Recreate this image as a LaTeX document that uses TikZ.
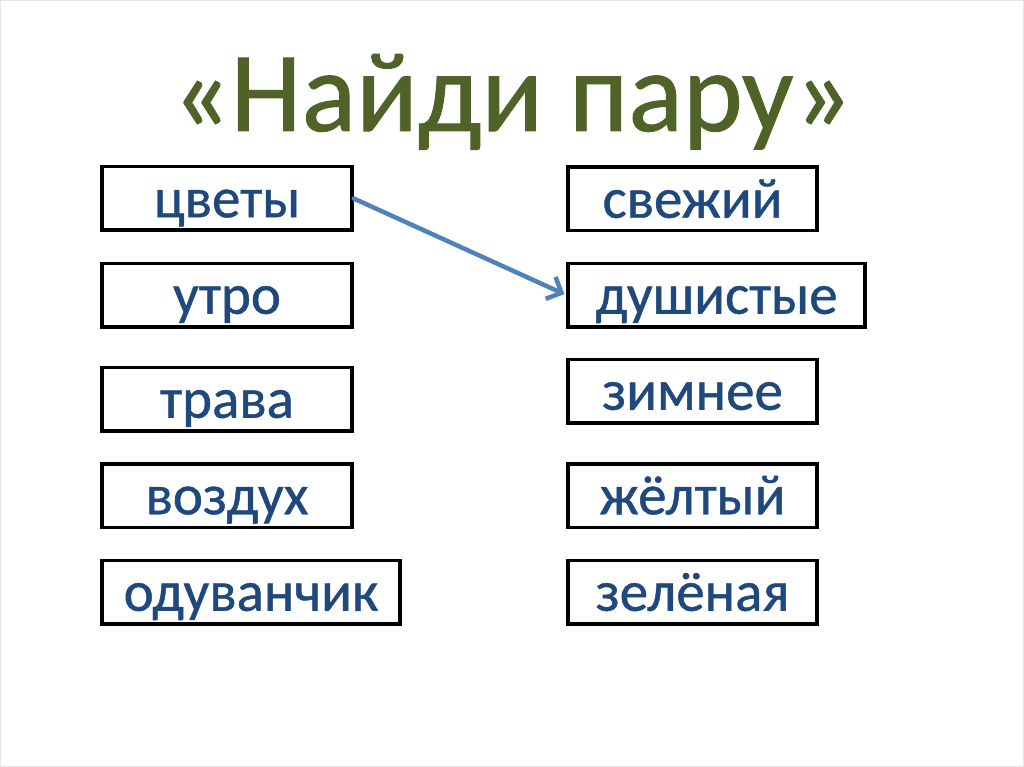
\documentclass[tikz,border=0pt]{standalone}
\usepackage{fontspec}
\setmainfont{Carlito}
\newfontfamily\heavyfont[FakeBold=0.8]{Carlito}
\usetikzlibrary{arrows.meta,shadows}
\definecolor{titlegreen}{HTML}{4F6228}
\definecolor{wordblue}{HTML}{1F497D}
\definecolor{arrowblue}{HTML}{4F81BD}
\definecolor{frame}{HTML}{E4E4E4}
\tikzset{
  wordbox/.style={draw=black, line width=3.5pt, fill=white, rectangle, inner sep=0pt,
    minimum height=63.5pt, text height=50.5pt, text depth=13pt,
    font=\heavyfont\fontsize{57}{60}\selectfont, text=wordblue,
    drop shadow={shadow xshift=1.5pt, shadow yshift=-1.5pt, opacity=0.18}},
  titletext/.style={font=\heavyfont\fontsize{114}{120}\selectfont, text=titlegreen, inner sep=0pt, anchor=base},
  pairarrow/.style={draw=arrowblue, line width=4.5pt, line cap=round,
    -{Straight Barb[length=12pt,width=24pt,line width=4.5pt]}, shorten >=2pt}
}
\begin{document}
\begin{tikzpicture}[x=1pt,y=-1pt]
\useasboundingbox (0,0) rectangle (1024,767);
\draw[frame, line width=1pt] (0.5,0.5) rectangle (1023.5,766.5);
\node[titletext] (title) at (512,131) {«Найди пару»};
\node[wordbox, minimum width=250pt] (a1) at (227,198.5) {цветы};
\node[wordbox, minimum width=250pt] (a2) at (227,295) {утро};
\node[wordbox, minimum width=250pt] (a3) at (227,399) {трава};
\node[wordbox, minimum width=250pt] (a4) at (227,495.5) {воздух};
\node[wordbox, minimum width=298pt] (a5) at (251,592) {одуванчик};
\node[wordbox, minimum width=249pt] (b1) at (692.5,199) {свежий};
\node[wordbox, minimum width=297pt] (b2) at (716.5,295) {душистые};
\node[wordbox, minimum width=249pt] (b3) at (692.5,391) {зимнее};
\node[wordbox, minimum width=249pt] (b4) at (692.5,495.5) {жёлтый};
\node[wordbox, minimum width=249pt] (b5) at (692.5,592) {зелёная};
\draw[pairarrow] (a1.east) -- (b2.west);
\end{tikzpicture}
\end{document}
